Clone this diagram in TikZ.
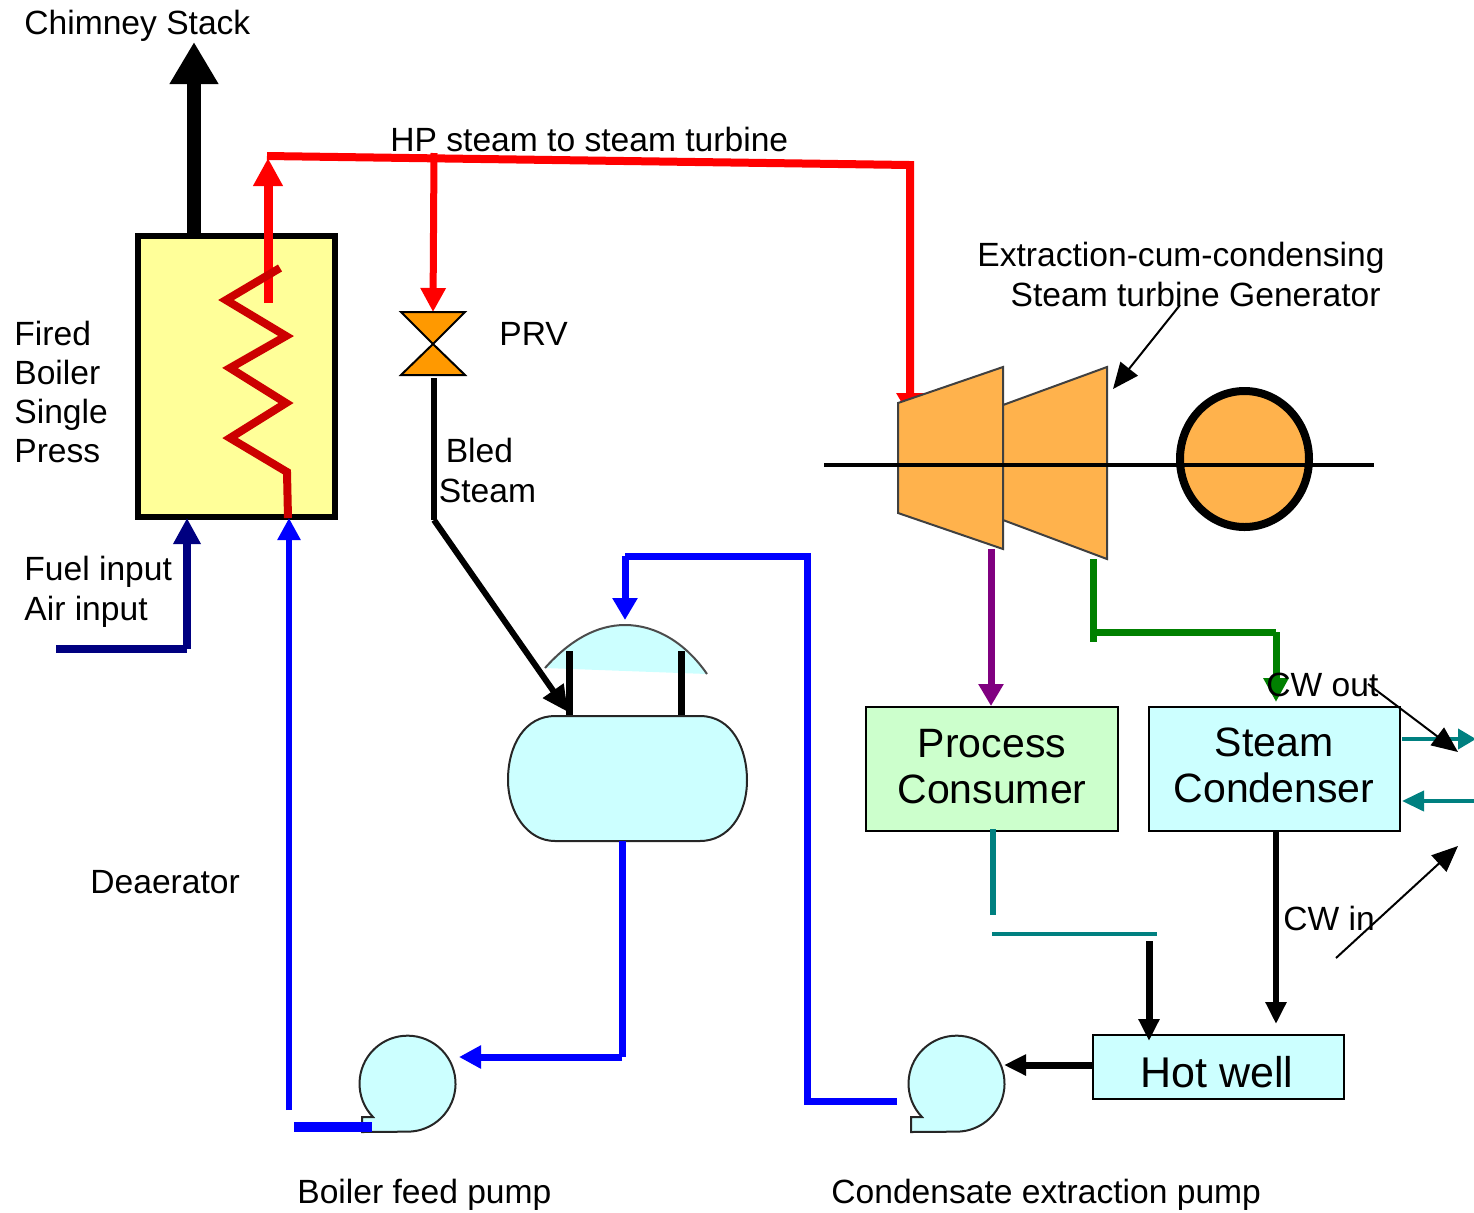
\documentclass[tikz,border=0pt]{standalone}
\usepackage{fontspec}
\setmainfont{Liberation Sans}
\usetikzlibrary{arrows.meta}

\definecolor{boilerfill}{HTML}{FFFF99}
\definecolor{coilred}{HTML}{CC0000}
\definecolor{valvefill}{HTML}{FF9900}
\definecolor{turbinefill}{HTML}{FFB24C}
\definecolor{waterfill}{HTML}{CCFFFF}
\definecolor{processfill}{HTML}{CCFFCC}
\definecolor{cwteal}{HTML}{008080}
\definecolor{navy}{HTML}{000080}
\definecolor{extractpurple}{HTML}{800080}
\definecolor{exhaustgreen}{HTML}{008000}

\tikzset{
    pipehead/.style 2 args={-{Triangle[length=#1,width=#2]}},
    txt/.style={font=\fontsize{16.8}{20}\selectfont,inner sep=0pt,anchor=north west},
    unit/.style={draw,line width=1pt,anchor=north west,inner sep=0pt},
    unittxt/.style={align=center,inner sep=0pt,font=\fontsize{20.5}{23}\selectfont},
    vessel/.style={draw=black!85,line width=1pt,fill=waterfill},
    casing/.style={draw=black!75,line width=1pt,fill=turbinefill}
}

\begin{document}
\begin{tikzpicture}[x=0.5pt,y=-0.5pt]
\useasboundingbox (0,0) rectangle (1474,1212);

\coordinate (S0) at (194,237);
\coordinate (S1) at (194,42);
\coordinate (R0) at (268,303);
\coordinate (R1) at (268,158);
\coordinate (H0) at (267,156);
\coordinate (H1) at (910,165);
\coordinate (H2) at (910,417);
\coordinate (V0) at (434,153);
\coordinate (V1) at (433,312);
\coordinate (V2) at (433,344);
\coordinate (B0) at (434,378);
\coordinate (B1) at (434,520);
\coordinate (B2) at (568,712);
\coordinate (F0) at (56,649);
\coordinate (F1) at (187,649);
\coordinate (F2) at (187,518);
\coordinate (W0) at (289,1110);
\coordinate (W1) at (289,518);
\coordinate (D0) at (622,841);
\coordinate (D1) at (622,1057);
\coordinate (D2) at (459,1057);
\coordinate (E0) at (897,1101);
\coordinate (E1) at (807,1101);
\coordinate (E2) at (807,556);
\coordinate (E3) at (625,556);
\coordinate (E4) at (625,620);
\coordinate (P0) at (294,1127);
\coordinate (P1) at (372,1127);

% boiler
\node[draw,line width=3pt,fill=boilerfill,anchor=north west,inner sep=0pt,minimum width=98.5pt,minimum height=140.5pt] (boiler) at (135,233) {};
\draw[line width=7pt,pipehead={21pt}{23pt}] (S0) -- (S1);
\draw[red,line width=4.5pt,pipehead={14pt}{14pt}] (R0) -- (R1);
\draw[coilred,line width=4pt] (280,268) -- (226,300) -- (286,336) -- (230,368) -- (286,403) -- (230,438) -- (287,472) -- (288,518);
\draw[navy,line width=4pt] (F0) -- (F1);
\draw[navy,line width=4pt,pipehead={13pt}{13pt}] (F1) -- (F2);
\draw[blue,line width=3pt,pipehead={11pt}{11pt}] (W0) -- (W1);

% steam main
\draw[red,line width=4pt,line join=miter,pipehead={12pt}{13pt}] (H0) -- (H1) -- (H2);
\draw[red,line width=3.5pt,pipehead={12pt}{12pt}] (V0) -- (V1);

% valve
\draw[line width=1pt,fill=valvefill] (401,312) -- (465,312) -- (V2) -- cycle;
\draw[line width=1pt,fill=valvefill] (401,375) -- (465,375) -- (V2) -- cycle;
\draw[line width=3pt] (B0) -- (B1);
\draw[line width=3pt,pipehead={13pt}{12pt}] (B1) -- (B2);

% deaerator
\fill[waterfill] (545,668) .. controls (570,640) and (597,625) .. (625,625) .. controls (655,625) and (685,642) .. (707,674) -- cycle;
\draw[draw=black!70,line width=1pt] (545,668) .. controls (570,640) and (597,625) .. (625,625) .. controls (655,625) and (685,642) .. (707,674);
\draw[line width=3.5pt] (569,651) -- (569,716);
\draw[line width=3.5pt] (681,651) -- (681,716);
\draw[vessel] (555,716) -- (700,716) .. controls (733,716) and (747,750) .. (747,780) .. controls (747,815) and (728,841) .. (700,841) -- (555,841) .. controls (527,841) and (508,812) .. (508,780) .. controls (508,745) and (525,716) .. (555,716) -- cycle;
\draw[blue,line width=3.5pt] (D0) -- (D1);
\draw[blue,line width=3.5pt,pipehead={11pt}{11pt}] (D1) -- (D2);
\draw[blue,line width=3.5pt] (E0) -- (E1) -- (E2) -- (E3);
\draw[blue,line width=3.5pt,pipehead={11pt}{12pt}] (E3) -- (E4);

% pumps
\draw[vessel] (373,1117) arc[start angle=136,end angle=450,radius=48] -- (362,1132) -- (362,1117) -- cycle;
\draw[vessel] (922,1117) arc[start angle=136,end angle=450,radius=48] -- (911,1132) -- (911,1117) -- cycle;
\draw[blue,line width=5pt] (P0) -- (P1);

% turbine and generator
\draw[casing] (898,403) -- (1003,367) -- (1003,549) -- (898,513) -- cycle;
\draw[casing] (1003,405) -- (1107,367) -- (1107,559) -- (1003,520) -- cycle;
\draw[line width=4pt,fill=turbinefill] (1244.5,459) ellipse (64.5 and 68);
\draw[line width=2pt] (824,465) -- (1374,465);

% process side
\node[unit,fill=processfill,minimum width=126pt,minimum height=62pt] (consumer) at (865,706) {};
\node[unit,fill=waterfill,minimum width=125.5pt,minimum height=62pt] (condenser) at (1148,706) {};
\node[unit,fill=waterfill,minimum width=125.5pt,minimum height=32pt] (hotwell) at (1092,1034) {};
\node[unittxt] (consumertxt) at (992,766.5) {Process\\Consumer};
\node[unittxt] (condensertxt) at (1274,765.5) {Steam\\Condenser};
\node[unittxt,font=\fontsize{21.5}{23}\selectfont] (hotwelltxt) at (1217,1072) {Hot well};

\coordinate (T0) at (991,549);
\coordinate (T1) at (1093,559);
\coordinate (T2) at (1093,642);
\coordinate (T3) at (1093,632);
\coordinate (T4) at (1276,632);
\coordinate (T5) at (1276,702);
\draw[extractpurple,line width=3.5pt,pipehead={11pt}{12pt}] (T0) -- (consumer.north -| T0);
\draw[exhaustgreen,line width=3.5pt] (T1) -- (T2);
\draw[exhaustgreen,line width=3.5pt] (T3) -- (T4);
\draw[exhaustgreen,line width=3.5pt,pipehead={12pt}{12pt}] (T4) -- (T5);

\coordinate (C0) at (993,829);
\coordinate (C1) at (993,915);
\coordinate (C2) at (992,934);
\coordinate (C3) at (1157,934);
\coordinate (C4) at (1149,941);
\coordinate (C5) at (1149,1041);
\coordinate (C6) at (1276,1024);
\coordinate (C7) at (1004,1065);
\draw[cwteal,line width=3pt] (C0) -- (C1);
\draw[cwteal,line width=2pt] (C2) -- (C3);
\draw[line width=3.5pt,pipehead={11pt}{10pt}] (C4) -- (C5);
\draw[line width=3pt,pipehead={11pt}{10pt}] (condenser.south -| C6) -- (C6);
\draw[line width=3.5pt,pipehead={11pt}{10pt}] (hotwell.west |- C7) -- (C7);

\coordinate (O0) at (1402,739);
\coordinate (O1) at (1476,739);
\coordinate (O2) at (1476,801);
\coordinate (O3) at (1402,801);
\draw[cwteal,line width=2pt,pipehead={9pt}{10pt}] (O0) -- (O1);
\draw[cwteal,line width=2pt,pipehead={11pt}{10pt}] (O2) -- (O3);

% labels
\node[txt] (chimney) at (24,10) {Chimney Stack};
\node[txt] (hpsteam) at (390,127) {HP steam to steam turbine};
\node[txt,align=right] (extraction) at (977,242) {Extraction-cum-condensing\\Steam turbine Generator\hspace*{2pt}};
\node[txt] (prv) at (499,322) {PRV};
\node[txt,align=center] (bled) at (438.5,438) {\hspace*{-8pt}Bled\\Steam};
\node[txt,align=left,font=\fontsize{16.8}{19.5}\selectfont] (fired) at (14,321) {Fired\\Boiler\\Single\\Press};
\node[txt,align=left] (fuel) at (24,555.5) {Fuel input\\Air input};
\node[txt] (deaerator) at (90,870) {Deaerator};
\node[txt] (bfp) at (297,1179) {Boiler feed pump};
\node[txt] (cep) at (831,1179) {Condensate extraction pump};
\node[txt] (cwout) at (1266,673) {CW out};
\node[txt] (cwin) at (1283,906) {CW in};

\coordinate (A0) at (1180,305);
\coordinate (A1) at (1113,389);
\coordinate (A2) at (1368,684);
\coordinate (A3) at (1458,752);
\coordinate (A4) at (1336,958);
\coordinate (A5) at (1458,846);
\draw[line width=1pt,pipehead={13pt}{11pt}] (A0) -- (A1);
\draw[line width=1pt,pipehead={13pt}{11pt}] (A2) -- (A3);
\draw[line width=1pt,pipehead={13pt}{11pt}] (A4) -- (A5);
\end{tikzpicture}
\end{document}
